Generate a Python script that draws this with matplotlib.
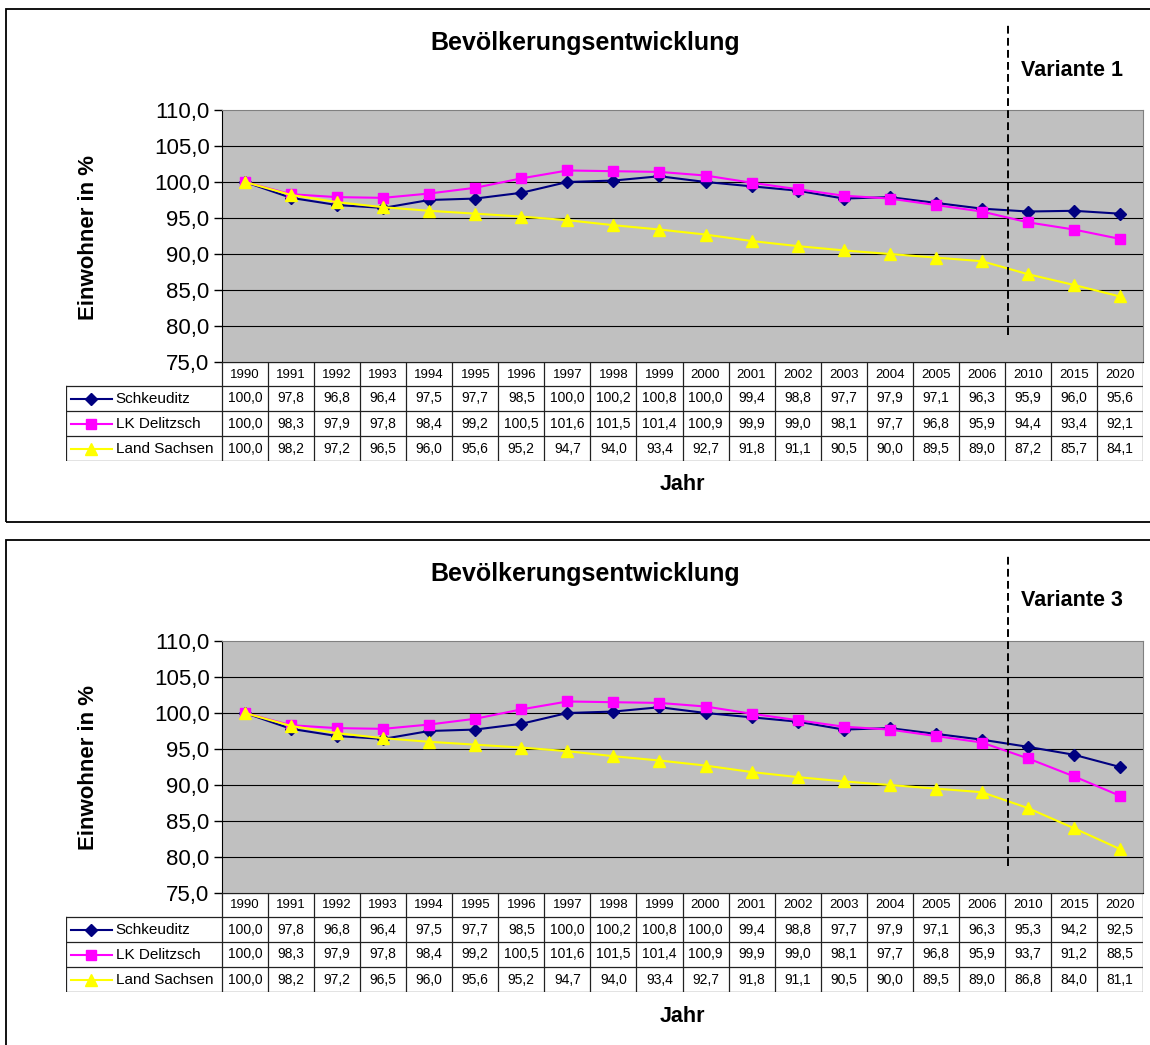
import numpy as np
import matplotlib
matplotlib.use("Agg")
import matplotlib.pyplot as plt
from matplotlib.patches import Rectangle

plt.rcParams["font.family"] = ["Liberation Sans", "DejaVu Sans"]

years = ["1990", "1991", "1992", "1993", "1994", "1995", "1996", "1997", "1998",
         "1999", "2000", "2001", "2002", "2003", "2004", "2005", "2006",
         "2010", "2015", "2020"]

# Variante 1
schkeuditz_v1 = [100.0, 97.8, 96.8, 96.4, 97.5, 97.7, 98.5, 100.0, 100.2, 100.8,
                 100.0, 99.4, 98.8, 97.7, 97.9, 97.1, 96.3, 95.9, 96.0, 95.6]
delitzsch_v1 = [100.0, 98.3, 97.9, 97.8, 98.4, 99.2, 100.5, 101.6, 101.5, 101.4,
                100.9, 99.9, 99.0, 98.1, 97.7, 96.8, 95.9, 94.4, 93.4, 92.1]
sachsen_v1 = [100.0, 98.2, 97.2, 96.5, 96.0, 95.6, 95.2, 94.7, 94.0, 93.4,
              92.7, 91.8, 91.1, 90.5, 90.0, 89.5, 89.0, 87.2, 85.7, 84.1]

# Variante 3
schkeuditz_v3 = [100.0, 97.8, 96.8, 96.4, 97.5, 97.7, 98.5, 100.0, 100.2, 100.8,
                 100.0, 99.4, 98.8, 97.7, 97.9, 97.1, 96.3, 95.3, 94.2, 92.5]
delitzsch_v3 = [100.0, 98.3, 97.9, 97.8, 98.4, 99.2, 100.5, 101.6, 101.5, 101.4,
                100.9, 99.9, 99.0, 98.1, 97.7, 96.8, 95.9, 93.7, 91.2, 88.5]
sachsen_v3 = [100.0, 98.2, 97.2, 96.5, 96.0, 95.6, 95.2, 94.7, 94.0, 93.4,
              92.7, 91.8, 91.1, 90.5, 90.0, 89.5, 89.0, 86.8, 84.0, 81.1]

series_names = ["Schkeuditz", "LK Delitzsch", "Land Sachsen"]
series_colors = ["#000080", "#FF00FF", "#FFFF00"]
series_markers = ["D", "s", "^"]
series_msize = [6.5, 7.5, 9]

y_ticks = [75, 80, 85, 90, 95, 100, 105, 110]

W, H = 1150, 1045
fig = plt.figure(figsize=(W / 100, H / 100), dpi=100)


def fx(px):
    return px / W


def fy(py):
    return 1 - py / H


def de(v):
    return f"{v:.1f}".replace(".", ",")


def draw_panel(off, data, variante, box_bottom):
    # outer frame
    fig.patches.append(Rectangle((fx(6), fy(box_bottom)), fx(1200 - 6), fy(9 + off) - fy(box_bottom),
                                 transform=fig.transFigure, fill=False,
                                 edgecolor="black", linewidth=1.3))

    n = len(years)
    x = np.arange(n)
    left, right, top, bottom = 222, 1143, 110 + off, 362 + off
    ax = fig.add_axes([fx(left), fy(bottom), fx(right - left), fy(top) - fy(bottom)])
    ax.set_facecolor("#C0C0C0")
    ax.set_xlim(-0.5, n - 0.5)
    ax.set_ylim(75, 110)
    ax.set_yticks(y_ticks)
    ax.set_yticklabels([de(v) for v in y_ticks], fontsize=16)
    ax.set_xticks([])
    ax.tick_params(axis="y", direction="out", length=6, width=1, pad=3)
    for yv in y_ticks[1:-1]:
        ax.axhline(yv, color="black", linewidth=0.8, zorder=1)
    for s in ["top", "right"]:
        ax.spines[s].set_color("#808080")
    ax.spines["left"].set_color("black")
    ax.spines["bottom"].set_color("black")

    for vals, c, m, ms in zip(data, series_colors, series_markers, series_msize):
        ax.plot(x, vals, color=c, marker=m, markersize=ms, markeredgecolor=c,
                linewidth=1.5, zorder=3)

    # dashed divider between observed years and forecast
    ax.axvline(16.57, ymin=(362 - 335) / 252, ymax=(362 - 24) / 252,
               color="black", linestyle=(0, (4, 2.2)),
               linewidth=1.4, clip_on=False, zorder=5)

    fig.text(fx(585), fy(43 + off), "Bevölkerungsentwicklung", ha="center", va="center",
             fontsize=18, fontweight="bold")
    fig.text(fx(1072), fy(70 + off), variante, ha="center", va="center",
             fontsize=15.5, fontweight="bold")
    fig.text(fx(88), fy(237 + off), "Einwohner in %", ha="center", va="center",
             rotation=90, fontsize=16, fontweight="bold")
    fig.text(fx(682), fy(485 + off), "Jahr", ha="center", va="center",
             fontsize=15.5, fontweight="bold")

    # data table below the axis
    t_left, t_top, t_bottom = 66, 362 + off, 461 + off
    cw = (right - left) / n
    tx = fig.add_axes([fx(t_left), fy(t_bottom), fx(right - t_left), fy(t_top) - fy(t_bottom)])
    tx.set_xlim(-0.5 - (left - t_left) / cw, n - 0.5)
    tx.set_ylim(99, 0)
    tx.axis("off")
    rows = [0, 24, 49, 74, 99]
    lc = "#222222"
    lx = -0.5 - (left - t_left) / cw
    tx.plot([-0.5, n - 0.5], [0, 0], color=lc, lw=0.9)
    for r in rows[1:]:
        tx.plot([lx, n - 0.5], [r, r], color=lc, lw=0.9)
    for i in range(n + 1):
        tx.plot([i - 0.5, i - 0.5], [0, 99], color=lc, lw=0.9)
    tx.plot([lx, lx], [24, 99], color=lc, lw=0.9)
    for i, yr in enumerate(years):
        tx.text(i, 12.5, yr, ha="center", va="center", fontsize=9.5)
    for k, vals in enumerate(data):
        yc = (rows[k + 1] + rows[k + 2]) / 2
        for i, v in enumerate(vals):
            tx.text(i, yc, de(v), ha="center", va="center", fontsize=10)
        tx.plot([lx + 0.1, lx + 1.0], [yc, yc], color=series_colors[k], lw=1.5)
        tx.plot([lx + 0.55], [yc], color=series_colors[k], marker=series_markers[k],
                markersize=series_msize[k], markeredgecolor=series_colors[k])
        tx.text(lx + 1.08, yc + 0.5, series_names[k], ha="left", va="center", fontsize=11)


draw_panel(0, [schkeuditz_v1, delitzsch_v1, sachsen_v1], "Variante 1", 522)
draw_panel(531, [schkeuditz_v3, delitzsch_v3, sachsen_v3], "Variante 3", 1100)

fig.savefig("out.png", dpi=100)
